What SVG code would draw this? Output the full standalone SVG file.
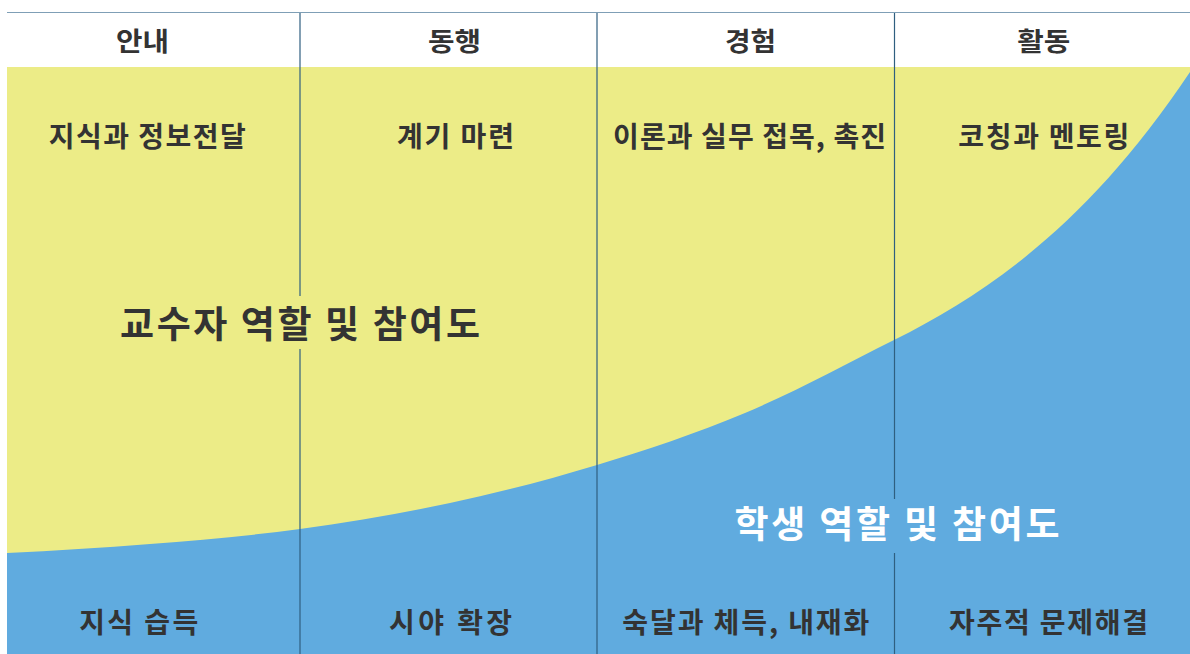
<svg xmlns="http://www.w3.org/2000/svg" width="1190" height="654" viewBox="0 0 1190 654">
<style>
.t{font-family:"Noto Sans CJK KR","Noto Sans",sans-serif;font-weight:bold;fill:#333333;text-anchor:middle}
.h{font-size:26px}
.r{font-size:28px}
.big{font-size:37px}
.w{fill:#ffffff}
.div{stroke:#2f5f80;stroke-width:1.2;fill:none}
</style>
<rect x="0" y="0" width="1190" height="654" fill="#ffffff"/>
<g id="background">
<rect x="7" y="67" width="1183" height="587" fill="#ecec87"/>
<path d="M7,553 C54.67,550.6 102.33,547.9 150,544 C200,539.9 250,535.85 300,529 C350,522.15 400,513.75 450,503 C499,492.5 548,479.9 597,465 C646.33,449.95 695.67,433.77 745,413 C794.67,392.1 844.33,364.8 894,340 C992.7,290.6 1091.3,220 1190,72 L1190,654 L7,654 Z" fill="#60abdf"/>
</g>
<g id="connectors">
<line x1="7" y1="12.5" x2="1190" y2="12.5" stroke="#7f9fb6" stroke-width="1.2"/>
<line class="div" x1="300" y1="13" x2="300" y2="296"/>
<line class="div" x1="300" y1="349" x2="300" y2="654"/>
<line class="div" x1="597" y1="13" x2="597" y2="654"/>
<line class="div" x1="894.5" y1="13" x2="894.5" y2="499"/>
<line class="div" x1="894.5" y1="553" x2="894.5" y2="654"/>
</g>
<g id="header-1"><text class="t h" x="142.5" y="50.5" textLength="53" lengthAdjust="spacingAndGlyphs">안내</text></g>
<g id="header-2"><text class="t h" x="454.5" y="50.5" textLength="53" lengthAdjust="spacingAndGlyphs">동행</text></g>
<g id="header-3"><text class="t h" x="750.6" y="50.5" textLength="51" lengthAdjust="spacingAndGlyphs">경험</text></g>
<g id="header-4"><text class="t h" x="1043.8" y="50.5" textLength="53" lengthAdjust="spacingAndGlyphs">활동</text></g>
<g id="teacher-1"><text class="t r" x="147.3" y="147" textLength="197" lengthAdjust="spacing">지식과 정보전달</text></g>
<g id="teacher-2"><text class="t r" x="455.4" y="147" textLength="117" lengthAdjust="spacing">계기 마련</text></g>
<g id="teacher-3"><text class="t r" x="749.6" y="147" textLength="273" lengthAdjust="spacing">이론과 실무 접목, 촉진</text></g>
<g id="teacher-4"><text class="t r" x="1043.8" y="147" textLength="171" lengthAdjust="spacing">코칭과 멘토링</text></g>
<g id="teacher-label"><text class="t big" x="300" y="338" textLength="360" lengthAdjust="spacing">교수자 역할 및 참여도</text></g>
<g id="student-label"><text class="t big w" x="897" y="538" textLength="325" lengthAdjust="spacing">학생 역할 및 참여도</text></g>
<g id="student-1"><text class="t r" x="138.7" y="632.5" textLength="119" lengthAdjust="spacing">지식 습득</text></g>
<g id="student-2"><text class="t r" x="450.6" y="632.5" textLength="123" lengthAdjust="spacing">시야 확장</text></g>
<g id="student-3"><text class="t r" x="745.8" y="632.5" textLength="247" lengthAdjust="spacing">숙달과 체득, 내재화</text></g>
<g id="student-4"><text class="t r" x="1048.5" y="632.5" textLength="199" lengthAdjust="spacing">자주적 문제해결</text></g>
</svg>
